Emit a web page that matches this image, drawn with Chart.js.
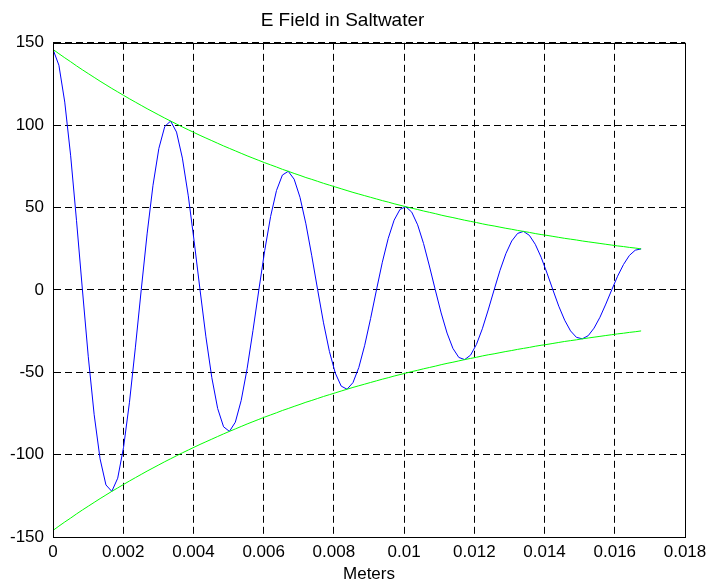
<!DOCTYPE html>
<html>
<head>
<meta charset="utf-8">
<title>E Field in Saltwater</title>
<script src="https://cdn.jsdelivr.net/npm/chart.js@4/dist/chart.umd.min.js"></script>
<style>
  html, body { margin: 0; padding: 0; background: #fff; }
  #wrap { width: 706px; height: 585px; position: relative; }
</style>
</head>
<body>
<div id="wrap"><canvas id="efield"></canvas></div>
<script>
// distance into the water (m)
var meters = [
  0, 0.000168, 0.000335, 0.000503, 0.00067, 0.000838, 0.001005, 0.001173, 0.00134, 0.001508,
  0.001675, 0.001843, 0.00201, 0.002178, 0.002345, 0.002513, 0.00268, 0.002848, 0.003015, 0.003183,
  0.00335, 0.003518, 0.003685, 0.003853, 0.00402, 0.004188, 0.004355, 0.004523, 0.00469, 0.004858,
  0.005025, 0.005193, 0.00536, 0.005528, 0.005695, 0.005863, 0.00603, 0.006198, 0.006365, 0.006533,
  0.0067, 0.006868, 0.007035, 0.007203, 0.00737, 0.007538, 0.007705, 0.007873, 0.00804, 0.008208,
  0.008375, 0.008543, 0.00871, 0.008878, 0.009045, 0.009213, 0.00938, 0.009548, 0.009715, 0.009883,
  0.01005, 0.010218, 0.010385, 0.010553, 0.01072, 0.010888, 0.011055, 0.011223, 0.01139, 0.011558,
  0.011725, 0.011893, 0.01206, 0.012228, 0.012395, 0.012563, 0.01273, 0.012898, 0.013065, 0.013233,
  0.0134, 0.013568, 0.013735, 0.013903, 0.01407, 0.014238, 0.014405, 0.014573, 0.01474, 0.014908,
  0.015075, 0.015243, 0.01541, 0.015578, 0.015745, 0.015913, 0.01608, 0.016248, 0.016415, 0.016583,
  0.01675
];

// the field itself (blue)
var field = [
  146.0, 136.4, 114.0, 81.4, 42.0, 0, -40.6, -75.8, -102.5, -118.4,
  -122.3, -114.3, -95.5, -68.2, -35.2, 0, 34.0, 63.5, 85.9, 99.2,
  102.5, 95.8, 80.0, 57.1, 29.5, 0, -28.5, -53.2, -72.0, -83.1,
  -85.9, -80.3, -67.1, -47.9, -24.7, 0, 23.9, 44.6, 60.3, 69.7,
  72.0, 67.2, 56.2, 40.1, 20.7, 0, -20.0, -37.4, -50.5, -58.4,
  -60.3, -56.3, -47.1, -33.6, -17.4, 0, 16.8, 31.3, 42.3, 48.9,
  50.5, 47.2, 39.5, 28.2, 14.5, 0, -14.0, -26.2, -35.5, -41.0,
  -42.3, -39.6, -33.1, -23.6, -12.2, 0, 11.8, 22.0, 29.7, 34.3,
  35.5, 33.1, 27.7, 19.8, 10.2, 0, -9.9, -18.4, -24.9, -28.8,
  -29.7, -27.8, -23.2, -16.6, -8.6, 0, 8.3, 15.4, 20.9, 24.1,
  24.9
];

// decay envelope (green), upper and lower
var envTop = [
  146.0, 143.4, 140.9, 138.5, 136.0, 133.6, 131.3, 129.0, 126.7, 124.5,
  122.3, 120.2, 118.1, 116.0, 114.0, 112.0, 110.0, 108.1, 106.2, 104.3,
  102.5, 100.7, 98.9, 97.2, 95.5, 93.8, 92.2, 90.6, 89.0, 87.4,
  85.9, 84.4, 82.9, 81.4, 80.0, 78.6, 77.2, 75.9, 74.6, 73.2,
  72.0, 70.7, 69.5, 68.2, 67.1, 65.9, 64.7, 63.6, 62.5, 61.4,
  60.3, 59.2, 58.2, 57.2, 56.2, 55.2, 54.2, 53.3, 52.3, 51.4,
  50.5, 49.6, 48.8, 47.9, 47.1, 46.3, 45.4, 44.6, 43.9, 43.1,
  42.3, 41.6, 40.9, 40.1, 39.4, 38.8, 38.1, 37.4, 36.8, 36.1,
  35.5, 34.9, 34.2, 33.6, 33.1, 32.5, 31.9, 31.3, 30.8, 30.3,
  29.7, 29.2, 28.7, 28.2, 27.7, 27.2, 26.7, 26.3, 25.8, 25.4,
  24.9
];
var envBottom = [
  -146.0, -143.4, -140.9, -138.5, -136.0, -133.6, -131.3, -129.0, -126.7, -124.5,
  -122.3, -120.2, -118.1, -116.0, -114.0, -112.0, -110.0, -108.1, -106.2, -104.3,
  -102.5, -100.7, -98.9, -97.2, -95.5, -93.8, -92.2, -90.6, -89.0, -87.4,
  -85.9, -84.4, -82.9, -81.4, -80.0, -78.6, -77.2, -75.9, -74.6, -73.2,
  -72.0, -70.7, -69.5, -68.2, -67.1, -65.9, -64.7, -63.6, -62.5, -61.4,
  -60.3, -59.2, -58.2, -57.2, -56.2, -55.2, -54.2, -53.3, -52.3, -51.4,
  -50.5, -49.6, -48.8, -47.9, -47.1, -46.3, -45.4, -44.6, -43.9, -43.1,
  -42.3, -41.6, -40.9, -40.1, -39.4, -38.8, -38.1, -37.4, -36.8, -36.1,
  -35.5, -34.9, -34.2, -33.6, -33.1, -32.5, -31.9, -31.3, -30.8, -30.3,
  -29.7, -29.2, -28.7, -28.2, -27.7, -27.2, -26.7, -26.3, -25.8, -25.4,
  -24.9
];

var xTicks = [0, 0.002, 0.004, 0.006, 0.008, 0.01, 0.012, 0.014, 0.016, 0.018];
var yTicks = [-150, -100, -50, 0, 50, 100, 150];

var FONT = '"Liberation Sans", Arial, Helvetica, sans-serif';

function points(ys) {
    return meters.map(function(x, i) { return { x: x, y: ys[i] }; });
}

function line(ys, color) {
    return {
        data: points(ys),
        borderColor: color,
        borderWidth: 1,
        pointRadius: 0,
        fill: false,
        tension: 0
    };
}

/**
 * draws the closed box around the plot, like matlab's "box on"
 */
var boxPlugin = {
    id: 'box',
    afterDatasetsDraw: function(chart) {
        var a = chart.chartArea;
        var ctx = chart.ctx;
        ctx.save();
        ctx.strokeStyle = '#000';
        ctx.lineWidth = 1;
        ctx.setLineDash([]);
        ctx.strokeRect(Math.round(a.left) + 0.5, Math.round(a.top) + 0.5,
            Math.round(a.right - a.left), Math.round(a.bottom - a.top));
        ctx.restore();
    }
};

var dashedGrid = {
    color: '#000',
    lineWidth: 1,
    drawTicks: false
};

new Chart(document.getElementById('efield').getContext('2d'), {
    type: 'line',
    data: {
        datasets: [
            line(envTop, '#00ff00'),
            line(envBottom, '#00ff00'),
            line(field, '#0000ff')
        ]
    },
    options: {
        responsive: true,
        maintainAspectRatio: false,
        animation: false,
        layout: { padding: { left: 0, right: 21, top: 0, bottom: 0 } },
        plugins: {
            legend: { display: false },
            tooltip: { enabled: false },
            title: {
                display: true,
                text: 'E Field in Saltwater',
                color: '#000',
                font: { family: FONT, size: 19, weight: 'normal' },
                padding: { top: 9, bottom: 11 }
            }
        },
        scales: {
            x: {
                type: 'linear',
                min: xTicks[0],
                max: xTicks[xTicks.length - 1],
                afterBuildTicks: function(scale) {
                    scale.ticks = xTicks.map(function(v) { return { value: v }; });
                },
                afterFit: function(scale) {
                    scale.height = 48;
                    scale.paddingRight = 0;
                    scale.paddingLeft = 0;
                },
                grid: dashedGrid,
                border: { display: true, color: '#000', width: 1, dash: [7, 4] },
                ticks: {
                    color: '#000',
                    padding: 5,
                    maxRotation: 0,
                    autoSkip: false,
                    font: { family: FONT, size: 17 },
                    callback: function(v) { return String(parseFloat(v.toFixed(4))); }
                },
                title: {
                    display: true,
                    text: 'Meters',
                    color: '#000',
                    font: { family: FONT, size: 17 },
                    padding: { top: 0, bottom: 0 }
                }
            },
            y: {
                type: 'linear',
                min: yTicks[0],
                max: yTicks[yTicks.length - 1],
                afterBuildTicks: function(scale) {
                    scale.ticks = yTicks.map(function(v) { return { value: v }; });
                },
                afterFit: function(scale) {
                    scale.width = 53;
                },
                grid: dashedGrid,
                border: { display: true, color: '#000', width: 1, dash: [7, 4] },
                ticks: {
                    color: '#000',
                    padding: 9,
                    autoSkip: false,
                    font: { family: FONT, size: 17 },
                    callback: function(v) { return String(v); }
                }
            }
        }
    },
    plugins: [boxPlugin]
});
</script>
</body>
</html>
